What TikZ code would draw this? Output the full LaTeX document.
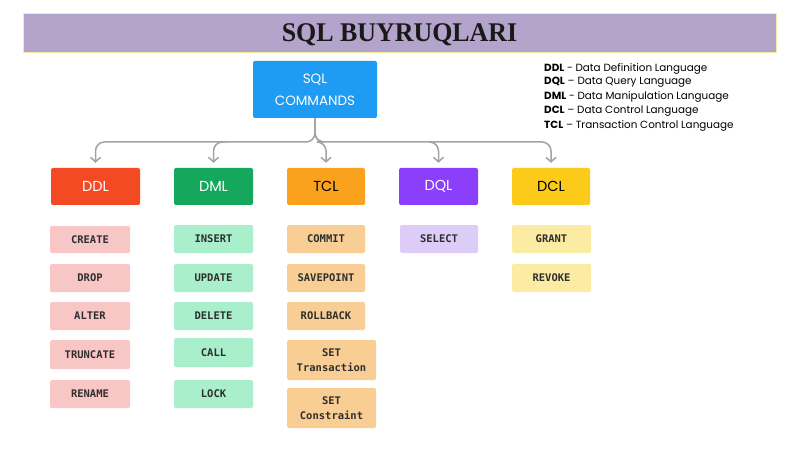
\documentclass[tikz,border=0pt]{standalone}
\usepackage{fontspec}
\setmainfont{Liberation Serif}
\newfontfamily\pop{Poppins}
\newfontfamily\monof{DejaVu Sans Mono}
\usetikzlibrary{arrows.meta}
\definecolor{titlebg}{HTML}{B4A3CB}
\definecolor{titlebd}{HTML}{F2EDA6}
\definecolor{cblue}{HTML}{1E9BF3}
\definecolor{cred}{HTML}{F34A23}
\definecolor{cgreen}{HTML}{15A85C}
\definecolor{corange}{HTML}{FAA21E}
\definecolor{cpurple}{HTML}{8C3FFB}
\definecolor{cyellow}{HTML}{FCCB1A}
\definecolor{lred}{HTML}{F9C6C6}
\definecolor{lgreen}{HTML}{AAEFCB}
\definecolor{lorange}{HTML}{F9CE94}
\definecolor{lpurple}{HTML}{DDCCF8}
\definecolor{lyellow}{HTML}{FCEBA3}
\definecolor{conn}{HTML}{A3A3A3}
\definecolor{subtxt}{HTML}{2E2E2E}
\tikzset{
  catbox/.style={rounded corners=2pt, inner sep=0pt, font=\pop\fontsize{14.5}{16}\selectfont},
  subbox/.style={rounded corners=1.5pt, inner sep=0pt, text=subtxt, align=center, font=\monof\bfseries\fontsize{10.5}{15}\selectfont},
  legend/.style={anchor=west, inner sep=0pt, font=\pop\fontsize{10.4}{12}\selectfont},
  connector/.style={draw=conn, line width=1.5pt, rounded corners=9pt, -{Straight Barb[length=4.5pt,width=10pt]}, shorten >=5pt},
}
\newcommand{\pbox}[6]{% name, x1, y1, x2, y2, style+text
  \node[#6, minimum width={(#4-#2)*1pt}, minimum height={(#5-#3)*1pt}] (#1) at ({(#2+#4)/2},{(#3+#5)/2})}
\begin{document}
\begin{tikzpicture}[x=1pt,y=-1pt]
\useasboundingbox (0,0) rectangle (800,449);
\fill[white] (0,0) rectangle (800,449);
% title
\node[fill=titlebg, draw=titlebd, line width=1pt, minimum width=753pt, minimum height=39pt, inner sep=0pt] (title) at (399.5,33.5) {};
\node[font=\bfseries\fontsize{27}{30}\selectfont, text=black!90, xscale=0.96] (titletext) at (399.5,35) {SQL BUYRUQLARI};
% root
\pbox{sql}{253}{61}{377}{118}{catbox, fill=cblue, text=white, align=center, font=\pop\fontsize{13.5}{22}\selectfont}{SQL\\COMMANDS};
% categories
\pbox{ddl}{51}{168}{140}{205}{catbox, fill=cred, text=white}{DDL};
\pbox{dml}{174}{168}{253}{205}{catbox, fill=cgreen, text=white}{DML};
\pbox{tcl}{287}{168}{365}{205}{catbox, fill=corange, text=black}{TCL};
\pbox{dql}{399}{168}{478}{205}{catbox, fill=cpurple, text=white}{DQL};
\pbox{dcl}{512}{168}{590}{205}{catbox, fill=cyellow, text=black}{DCL};
% connectors
\coordinate (h) at (0,142);
\draw[connector] (sql.south) |- (ddl.north |- h) -- (ddl.north);
\draw[connector] (sql.south) |- (dcl.north |- h) -- (dcl.north);
\draw[connector] (sql.south) |- (tcl.north |- h) -- (tcl.north);
\draw[connector] ([xshift=13pt]dml.north |- h) -| (dml.north);
\draw[connector] ([xshift=-9pt]dql.north |- h) -| (dql.north);
% DDL items
\pbox{create}{50}{226}{130}{253}{subbox, fill=lred}{CREATE};
\pbox{drop}{50}{264}{130}{292}{subbox, fill=lred}{DROP};
\pbox{alter}{50}{302}{130}{330}{subbox, fill=lred}{ALTER};
\pbox{truncate}{50}{340}{130}{369}{subbox, fill=lred}{TRUNCATE};
\pbox{rename}{50}{380}{130}{408}{subbox, fill=lred}{RENAME};
% DML items
\pbox{insert}{174}{225}{253}{253}{subbox, fill=lgreen}{INSERT};
\pbox{update}{174}{264}{253}{292}{subbox, fill=lgreen}{UPDATE};
\pbox{delete}{174}{302}{253}{330}{subbox, fill=lgreen}{DELETE};
\pbox{call}{174}{338}{253}{367}{subbox, fill=lgreen}{CALL};
\pbox{lock}{174}{380}{253}{408}{subbox, fill=lgreen}{LOCK};
% TCL items
\pbox{commit}{287}{225}{365}{253}{subbox, fill=lorange}{COMMIT};
\pbox{savepoint}{287}{264}{365}{292}{subbox, fill=lorange}{SAVEPOINT};
\pbox{rollback}{287}{302}{365}{330}{subbox, fill=lorange}{ROLLBACK};
\pbox{settr}{287}{340}{376}{380}{subbox, fill=lorange}{SET\\Transaction};
\pbox{setco}{287}{388}{376}{428}{subbox, fill=lorange}{SET\\Constraint};
% DQL items
\pbox{select}{400}{225}{478}{253}{subbox, fill=lpurple}{SELECT};
% DCL items
\pbox{grant}{512}{225}{591}{253}{subbox, fill=lyellow}{GRANT};
\pbox{revoke}{512}{264}{591}{292}{subbox, fill=lyellow}{REVOKE};
% legend
\node[legend] (l1) at (544,68.5) {\textbf{DDL} - Data Definition Language};
\node[legend] (l2) at (544,82.5) {\textbf{DQL} – Data Query Language};
\node[legend] (l3) at (544,97) {\textbf{DML} - Data Manipulation Language};
\node[legend] (l4) at (544,111) {\textbf{DCL} – Data Control Language};
\node[legend] (l5) at (544,125.5) {\textbf{TCL} – Transaction Control Language};
\end{tikzpicture}
\end{document}
